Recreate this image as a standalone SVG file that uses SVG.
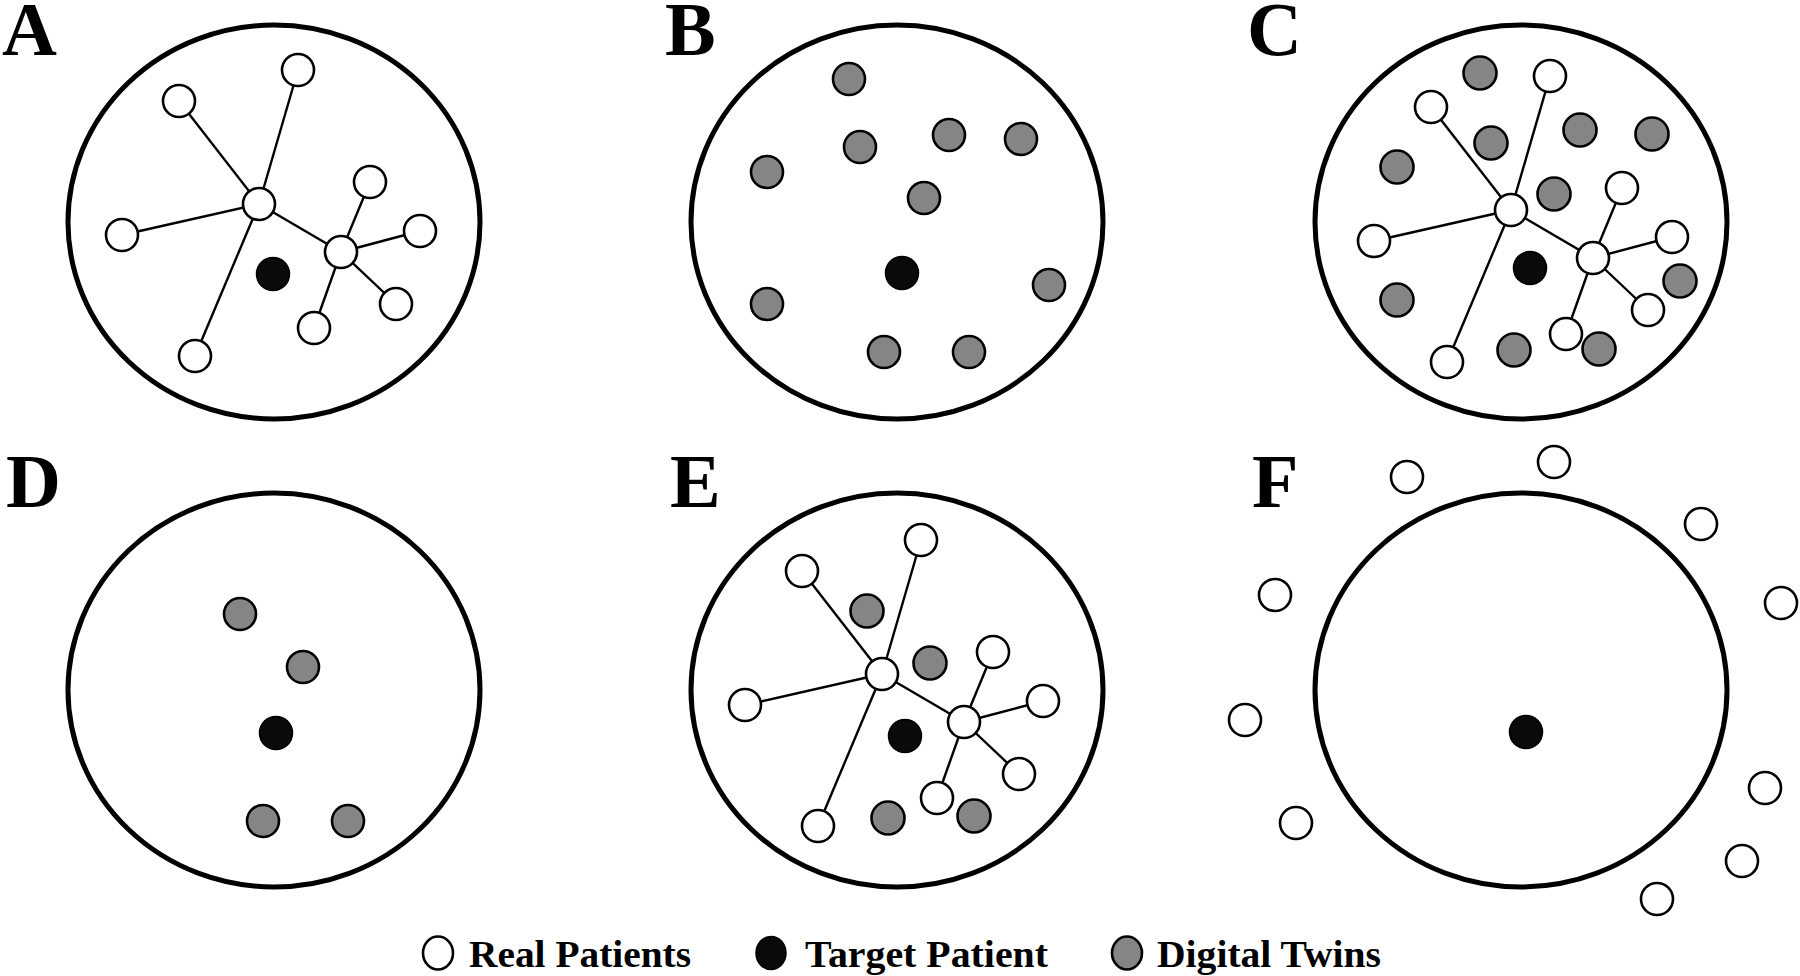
<svg xmlns="http://www.w3.org/2000/svg" width="1800" height="976" viewBox="0 0 1800 976">
<style>
.bg{fill:#fff}
.panel{fill:none;stroke:#000;stroke-width:5}
.real{fill:#fff;stroke:#000;stroke-width:2.6}
.twin{fill:#858585;stroke:#000;stroke-width:2.6}
.target{fill:#0a0a0a;stroke:#000;stroke-width:1.5}
.edge{stroke:#000;stroke-width:2.4;fill:none}
.lbl{font-family:"Liberation Serif","Times New Roman",serif;font-weight:bold;font-size:76px;fill:#000}
.leg{font-family:"Liberation Serif","Times New Roman",serif;font-weight:bold;font-size:38px;fill:#000}
</style>
<rect class="bg" x="0" y="0" width="1800" height="976"/>
<g id="panel-labels">
<text class="lbl" x="2" y="55">A</text>
<text class="lbl" x="665" y="55">B</text>
<text class="lbl" x="1247" y="55">C</text>
<text class="lbl" x="6" y="507">D</text>
<text class="lbl" x="670" y="507">E</text>
<text class="lbl" x="1252" y="507">F</text>
</g>
<g id="panels">
<ellipse id="panel-A" class="panel" cx="274" cy="222" rx="206" ry="197"/>
<ellipse id="panel-B" class="panel" cx="897" cy="222" rx="206" ry="197"/>
<ellipse id="panel-C" class="panel" cx="1521" cy="222" rx="206" ry="197"/>
<ellipse id="panel-D" class="panel" cx="274" cy="690" rx="206" ry="197"/>
<ellipse id="panel-E" class="panel" cx="897" cy="690" rx="206" ry="197"/>
<ellipse id="panel-F" class="panel" cx="1521" cy="690" rx="206" ry="197"/>
</g>
<g id="connectors" class="edge">
<!-- A -->
<line x1="259" y1="204" x2="179" y2="101"/>
<line x1="259" y1="204" x2="298" y2="70"/>
<line x1="259" y1="204" x2="122" y2="235"/>
<line x1="259" y1="204" x2="195" y2="356"/>
<line x1="259" y1="204" x2="341" y2="252"/>
<line x1="341" y1="252" x2="370" y2="182"/>
<line x1="341" y1="252" x2="420" y2="231"/>
<line x1="341" y1="252" x2="396" y2="304"/>
<line x1="341" y1="252" x2="314" y2="328"/>
<!-- C -->
<line x1="1511" y1="210" x2="1431" y2="107"/>
<line x1="1511" y1="210" x2="1550" y2="76"/>
<line x1="1511" y1="210" x2="1374" y2="241"/>
<line x1="1511" y1="210" x2="1447" y2="362"/>
<line x1="1511" y1="210" x2="1593" y2="258"/>
<line x1="1593" y1="258" x2="1622" y2="188"/>
<line x1="1593" y1="258" x2="1672" y2="237"/>
<line x1="1593" y1="258" x2="1648" y2="310"/>
<line x1="1593" y1="258" x2="1566" y2="334"/>
<!-- E -->
<line x1="882" y1="674" x2="802" y2="571"/>
<line x1="882" y1="674" x2="921" y2="540"/>
<line x1="882" y1="674" x2="745" y2="705"/>
<line x1="882" y1="674" x2="818" y2="826"/>
<line x1="882" y1="674" x2="964" y2="722"/>
<line x1="964" y1="722" x2="993" y2="652"/>
<line x1="964" y1="722" x2="1043" y2="701"/>
<line x1="964" y1="722" x2="1019" y2="774"/>
<line x1="964" y1="722" x2="937" y2="798"/>
</g>
<g id="nodes-A">
<g id="A-hub1"><circle class="real" cx="259" cy="204" r="16"/></g>
<g id="A-hub2"><circle class="real" cx="341" cy="252" r="16"/></g>
<g id="A-r1"><circle class="real" cx="179" cy="101" r="16"/></g>
<g id="A-r2"><circle class="real" cx="298" cy="70" r="16"/></g>
<g id="A-r3"><circle class="real" cx="122" cy="235" r="16"/></g>
<g id="A-r4"><circle class="real" cx="195" cy="356" r="16"/></g>
<g id="A-r5"><circle class="real" cx="370" cy="182" r="16"/></g>
<g id="A-r6"><circle class="real" cx="420" cy="231" r="16"/></g>
<g id="A-r7"><circle class="real" cx="396" cy="304" r="16"/></g>
<g id="A-r8"><circle class="real" cx="314" cy="328" r="16"/></g>
<g id="A-target"><circle class="target" cx="273" cy="274" r="16.5"/></g>
</g>
<g id="nodes-B">
<g id="B-t1"><circle class="twin" cx="849" cy="79" r="16"/></g>
<g id="B-t2"><circle class="twin" cx="860" cy="147" r="16"/></g>
<g id="B-t3"><circle class="twin" cx="949" cy="135" r="16"/></g>
<g id="B-t4"><circle class="twin" cx="1021" cy="139" r="16"/></g>
<g id="B-t5"><circle class="twin" cx="767" cy="172" r="16"/></g>
<g id="B-t6"><circle class="twin" cx="924" cy="198" r="16"/></g>
<g id="B-t7"><circle class="twin" cx="1049" cy="285" r="16"/></g>
<g id="B-t8"><circle class="twin" cx="767" cy="304" r="16"/></g>
<g id="B-t9"><circle class="twin" cx="884" cy="352" r="16"/></g>
<g id="B-t10"><circle class="twin" cx="969" cy="352" r="16"/></g>
<g id="B-target"><circle class="target" cx="902" cy="273" r="16.5"/></g>
</g>
<g id="nodes-C">
<g id="C-t1"><circle class="twin" cx="1480" cy="73" r="16.5"/></g>
<g id="C-t2"><circle class="twin" cx="1491" cy="143" r="16.5"/></g>
<g id="C-t3"><circle class="twin" cx="1580" cy="130" r="16.5"/></g>
<g id="C-t4"><circle class="twin" cx="1652" cy="134" r="16.5"/></g>
<g id="C-t5"><circle class="twin" cx="1397" cy="167" r="16.5"/></g>
<g id="C-t6"><circle class="twin" cx="1554" cy="194" r="16.5"/></g>
<g id="C-t7"><circle class="twin" cx="1680" cy="281" r="16.5"/></g>
<g id="C-t8"><circle class="twin" cx="1397" cy="300" r="16.5"/></g>
<g id="C-t9"><circle class="twin" cx="1514" cy="350" r="16.5"/></g>
<g id="C-t10"><circle class="twin" cx="1599" cy="349" r="16.5"/></g>
<g id="C-hub1"><circle class="real" cx="1511" cy="210" r="16"/></g>
<g id="C-hub2"><circle class="real" cx="1593" cy="258" r="16"/></g>
<g id="C-r1"><circle class="real" cx="1431" cy="107" r="16"/></g>
<g id="C-r2"><circle class="real" cx="1550" cy="76" r="16"/></g>
<g id="C-r3"><circle class="real" cx="1374" cy="241" r="16"/></g>
<g id="C-r4"><circle class="real" cx="1447" cy="362" r="16"/></g>
<g id="C-r5"><circle class="real" cx="1622" cy="188" r="16"/></g>
<g id="C-r6"><circle class="real" cx="1672" cy="237" r="16"/></g>
<g id="C-r7"><circle class="real" cx="1648" cy="310" r="16"/></g>
<g id="C-r8"><circle class="real" cx="1566" cy="334" r="16"/></g>
<g id="C-target"><circle class="target" cx="1530" cy="268" r="16.5"/></g>
</g>
<g id="nodes-D">
<g id="D-t1"><circle class="twin" cx="240" cy="614" r="16"/></g>
<g id="D-t2"><circle class="twin" cx="303" cy="667" r="16"/></g>
<g id="D-t3"><circle class="twin" cx="263" cy="821" r="16"/></g>
<g id="D-t4"><circle class="twin" cx="348" cy="821" r="16"/></g>
<g id="D-target"><circle class="target" cx="276" cy="733" r="16.5"/></g>
</g>
<g id="nodes-E">
<g id="E-t1"><circle class="twin" cx="867" cy="611" r="16.5"/></g>
<g id="E-t2"><circle class="twin" cx="930" cy="663" r="16.5"/></g>
<g id="E-t3"><circle class="twin" cx="888" cy="818" r="16.5"/></g>
<g id="E-t4"><circle class="twin" cx="974" cy="816" r="16.5"/></g>
<g id="E-hub1"><circle class="real" cx="882" cy="674" r="16"/></g>
<g id="E-hub2"><circle class="real" cx="964" cy="722" r="16"/></g>
<g id="E-r1"><circle class="real" cx="802" cy="571" r="16"/></g>
<g id="E-r2"><circle class="real" cx="921" cy="540" r="16"/></g>
<g id="E-r3"><circle class="real" cx="745" cy="705" r="16"/></g>
<g id="E-r4"><circle class="real" cx="818" cy="826" r="16"/></g>
<g id="E-r5"><circle class="real" cx="993" cy="652" r="16"/></g>
<g id="E-r6"><circle class="real" cx="1043" cy="701" r="16"/></g>
<g id="E-r7"><circle class="real" cx="1019" cy="774" r="16"/></g>
<g id="E-r8"><circle class="real" cx="937" cy="798" r="16"/></g>
<g id="E-target"><circle class="target" cx="905" cy="736" r="16.5"/></g>
</g>
<g id="nodes-F">
<g id="F-r1"><circle class="real" cx="1407" cy="477" r="16"/></g>
<g id="F-r2"><circle class="real" cx="1554" cy="462" r="16"/></g>
<g id="F-r3"><circle class="real" cx="1701" cy="524" r="16"/></g>
<g id="F-r4"><circle class="real" cx="1781" cy="603" r="16"/></g>
<g id="F-r5"><circle class="real" cx="1275" cy="595" r="16"/></g>
<g id="F-r6"><circle class="real" cx="1245" cy="720" r="16"/></g>
<g id="F-r7"><circle class="real" cx="1296" cy="823" r="16"/></g>
<g id="F-r8"><circle class="real" cx="1765" cy="788" r="16"/></g>
<g id="F-r9"><circle class="real" cx="1742" cy="861" r="16"/></g>
<g id="F-r10"><circle class="real" cx="1657" cy="899" r="16"/></g>
<g id="F-target"><circle class="target" cx="1526" cy="732" r="16.5"/></g>
</g>
<g id="legend">
<g id="legend-real"><ellipse class="real" cx="438" cy="953" rx="15" ry="16.5"/><text class="leg" x="469" y="967" textLength="222" lengthAdjust="spacingAndGlyphs">Real Patients</text></g>
<g id="legend-target"><ellipse class="target" cx="771" cy="953" rx="15" ry="16.5"/><text class="leg" x="805" y="967" textLength="243" lengthAdjust="spacingAndGlyphs">Target Patient</text></g>
<g id="legend-twin"><ellipse class="twin" cx="1127" cy="953" rx="15" ry="16.5"/><text class="leg" x="1157" y="967" textLength="224" lengthAdjust="spacingAndGlyphs">Digital Twins</text></g>
</g>
</svg>
